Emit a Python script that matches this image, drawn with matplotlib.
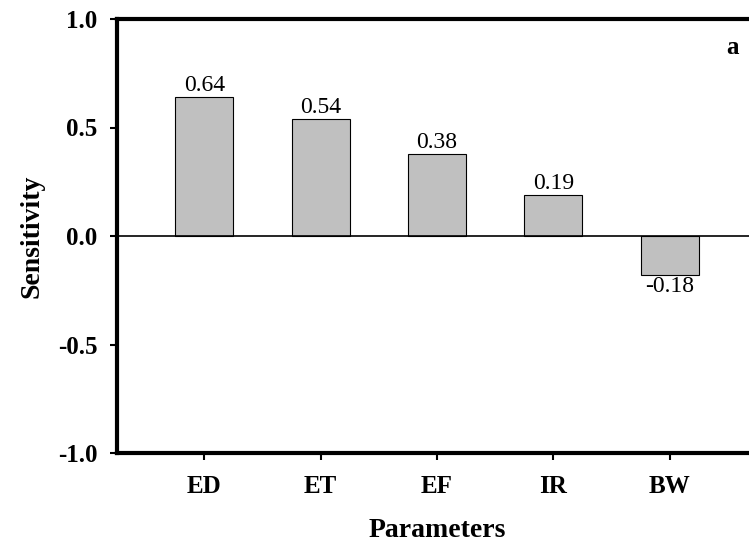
import matplotlib
matplotlib.use("Agg")
import matplotlib.pyplot as plt

categories = ["ED", "ET", "EF", "IR", "BW"]
values = [0.64, 0.54, 0.38, 0.19, -0.18]
labels = ["0.64", "0.54", "0.38", "0.19", "-0.18"]
yticks = [-1.0, -0.5, 0.0, 0.5, 1.0]

plt.rcParams['font.family'] = ['Liberation Serif', 'DejaVu Serif']

fig = plt.figure(figsize=(7.49, 5.50), dpi=100)
ax = fig.add_axes([117/749, 1-453/550, (757-117)/749, (453-19)/550])

x = list(range(len(categories)))
ax.bar(x, values, width=0.5, color='#c0c0c0', edgecolor='black', linewidth=0.8, zorder=2)
ax.axhline(0, color='black', linewidth=1.2, zorder=3)

for xi, v, lab in zip(x, values, labels):
    if v >= 0:
        ax.text(xi, v + 0.003, lab, ha='center', va='bottom', fontsize=17)
    else:
        ax.text(xi, v - 0.003, lab, ha='center', va='top', fontsize=17)

ax.set_xlim(-0.75, 4.75)
ax.set_ylim(-1.0, 1.0)
ax.set_yticks(yticks)
ax.set_yticklabels([f"{t:.1f}" for t in yticks], fontsize=18, fontweight='bold')
ax.set_xticks(x)
ax.set_xticklabels(categories, fontsize=18, fontweight='bold')
ax.tick_params(axis='both', direction='out', length=5, width=1.5, pad=9)
ax.tick_params(axis='x', pad=11)

for s in ['left', 'bottom', 'top']:
    ax.spines[s].set_linewidth(3)
ax.spines['right'].set_visible(False)

ax.set_xlabel("Parameters", fontsize=20, fontweight='bold', labelpad=14)
ax.set_ylabel("Sensitivity", fontsize=20, fontweight='bold', labelpad=10)

ax.text(4.59, 0.87, "a", fontsize=18, fontweight='bold', ha='right', va='center')

fig.savefig("out.png", dpi=100)
